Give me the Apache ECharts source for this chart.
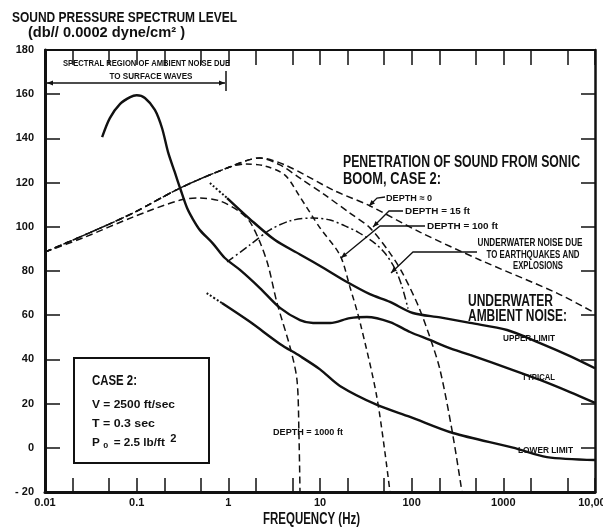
<!DOCTYPE html>
<html>
<head>
<meta charset="utf-8">
<script src="https://cdn.jsdelivr.net/npm/echarts@6/dist/echarts.min.js"></script>
<style>
  html, body { margin: 0; background: #fff; }
  #chart { width: 603px; height: 529px; }
</style>
</head>
<body>
<div id="chart"></div>
<script>
// axis ticks / labels
const xLabelValues = [0.01, 0.1, 1, 10, 100, 1000, 10000];
const xLabelText = ['0.01', '0.1', '1', '10', '100', '1000', '10,000'];
const xTickValues = [0.01, 0.02, 0.05, 0.1, 0.2, 0.5, 1, 2, 5, 10, 20, 50, 100, 200, 500, 1000, 2000, 5000, 10000];

// [frequency Hz, level dB]
// ambient noise due to surface waves, running on into the "typical" ambient curve
const typicalNoise = [
  [0.042, 140.6], [0.051, 149.2], [0.066, 155.6], [0.085, 158.7], [0.10, 159.5], [0.123, 158.3],
  [0.158, 152.9], [0.189, 144.7], [0.22, 133.8], [0.26, 124.8], [0.30, 117.1], [0.354, 108.6],
  [0.41, 103.5], [0.49, 98.5], [0.68, 92.4], [0.91, 86], [1.34, 80.5], [2.21, 72.3],
  [3.66, 63.3], [6.05, 57.8], [8.4, 56.5], [12.9, 56.5], [21.2, 58.7], [32.5, 59.2], [58, 56.9],
  [96, 52.4], [158, 48.8], [243, 45.6], [433, 42], [1274, 35.2], [2512, 30.7], [5335, 25.2], [10000, 20.3]
];
const upperLimitLead = [[0.63, 119.8], [0.97, 113]];
const upperLimit = [
  [0.97, 113], [1.72, 103.5], [3.23, 94], [6.05, 87.5], [11.3, 81], [19.7, 75], [35, 69.5],
  [58, 66], [103, 61], [204, 59], [433, 56.5], [1097, 53.3], [2512, 47.4], [5335, 41.5], [10000, 36]
];
const lowerLimitLead = [[0.58, 70], [0.85, 65.5]];
const lowerLimit = [
  [0.85, 65.5], [1.72, 57], [3.66, 47], [6.05, 41.5], [10, 35.5], [16.5, 28], [41.9, 19.4],
  [96, 14], [282, 6.7], [1274, 0.1], [2993, -4.2], [10000, -5.5]
];
// sonic boom penetration, case 2
const depth0 = [
  [0.01, 88.6], [0.026, 96], [0.091, 106.2], [0.30, 117.6], [0.97, 126.6], [2.21, 131.1],
  [4.15, 128], [14.6, 116.2], [33.4, 109.9], [123, 97.6], [556, 85], [3846, 70], [10000, 61]
];
const depth15 = [
  [0.01, 88.6], [0.026, 96], [0.091, 106.2], [0.30, 117.6], [0.97, 126.6], [2.21, 131.1],
  [3.66, 128], [6.05, 122], [11.3, 114.4], [21.2, 106.2], [35.1, 99.5], [58, 88.1], [78.4, 79.5],
  [117, 64.6], [158, 50.1], [204, 35.2], [275, 8.1], [354, -20]
];
const depth100 = [
  [0.01, 88.6], [0.026, 96], [0.091, 106.2], [0.30, 117.6], [0.97, 126.6], [1.52, 128.4],
  [2.51, 127.5], [4.15, 123.4], [6.05, 113.5], [10, 99.5], [16.5, 87.2], [21.2, 72.8],
  [27.3, 56.9], [41.9, 22.5], [58, -20]
];
const depth1000 = [
  [0.01, 88.6], [0.026, 95], [0.091, 104.4], [0.30, 112.1], [0.49, 113], [0.81, 111.7],
  [1.34, 106.7], [1.72, 102.2], [2.21, 93.1], [2.71, 82.7], [3.4, 65.5], [4.71, 45.6],
  [5.61, 30.7], [5.9, 5], [6.05, -20]
];
// underwater noise due to earthquakes and explosions
const quakeNoise = [
  [0.97, 84.1], [1.72, 91.8], [2.85, 98.6], [4.71, 102.7], [8.4, 104], [12.9, 103.1],
  [18.7, 100.4], [25.9, 97.6], [39.8, 92.5], [51.2, 88], [65.8, 81], [78.4, 73], [91.2, 63]
];

const FONT = '"Liberation Sans", Arial, sans-serif';
const INK = '#111';
const measurer = document.createElement('canvas').getContext('2d');

// squeezed bold text, to look like the condensed lettering of the original
function note(text, x, y, size, width, align) {
  const font = 'bold ' + size + 'px ' + FONT;
  measurer.font = font;
  const sx = width / measurer.measureText(text).width;
  return {
    type: 'text', x: x, y: y, scaleX: sx, silent: true, z: 100,
    style: { text: text, font: font, fill: INK, align: align || 'left', verticalAlign: 'middle' }
  };
}

function head(from, to) {
  const a = Math.atan2(to[1] - from[1], to[0] - from[0]);
  const L = 6, W = 2.4;
  const bx = to[0] - L * Math.cos(a), by = to[1] - L * Math.sin(a);
  return {
    type: 'polygon', silent: true, z: 100,
    shape: { points: [to, [bx + W * Math.sin(a), by - W * Math.cos(a)], [bx - W * Math.sin(a), by + W * Math.cos(a)]] },
    style: { fill: INK }
  };
}

function leader(points) {
  const n = points.length;
  return [
    { type: 'polyline', silent: true, z: 100, shape: { points: points }, style: { stroke: INK, lineWidth: 1.3, fill: null } },
    head(points[n - 2], points[n - 1])
  ];
}

function curve(data, width, dash) {
  return {
    type: 'line', data: data, showSymbol: false, smooth: 0.3,
    silent: true, lineStyle: { color: INK, width: width, type: dash || 'solid' }
  };
}

// width of the P0 line, measured so it can be squeezed like the others
measurer.font = 'bold 10.5px ' + FONT;
const p0Width = measurer.measureText('P0 = 2.5 lb/ft 2').width + 4;

const graphics = [
  note('SOUND PRESSURE SPECTRUM LEVEL', 12, 18, 15, 225),
  note('(db// 0.0002 dyne/cm² )', 28, 33, 14, 157),
  note('SPECTRAL REGION OF AMBIENT NOISE DUE', 63, 63, 9.5, 167),
  note('TO SURFACE WAVES', 151, 76, 9.5, 83, 'center'),
  note('PENETRATION OF SOUND FROM SONIC', 343, 163, 16, 237),
  note('BOOM, CASE 2:', 343, 180, 16, 98),
  note('DEPTH ≈ 0', 386, 198, 9.5, 46),
  note('DEPTH = 15 ft', 405, 211, 9.5, 65),
  note('DEPTH = 100 ft', 427, 226, 9.5, 71),
  note('UNDERWATER NOISE DUE', 530, 243, 11, 105, 'center'),
  note('TO EARTHQUAKES AND', 533, 254.5, 11, 93, 'center'),
  note('EXPLOSIONS', 538, 266, 11, 50, 'center'),
  note('UNDERWATER', 468, 302, 16, 85),
  note('AMBIENT NOISE:', 468, 317, 16, 99),
  note('UPPER LIMIT', 503, 338, 9.5, 52),
  note('TYPICAL', 522, 377, 9.5, 33),
  note('LOWER LIMIT', 518, 450, 9.5, 55),
  note('DEPTH = 1000 ft', 273, 432, 9.5, 70),
  note('CASE 2:', 92, 381, 15, 45),
  note('V = 2500 ft/sec', 92, 405, 10.5, 83),
  note('T = 0.3 sec', 92, 424, 10.5, 63),
  {
    type: 'text', x: 92, y: 443, scaleX: 83 / p0Width, silent: true, z: 100,
    style: {
      text: '{a|P}{s|0}{a| = 2.5 lb/ft }{p|2}', verticalAlign: 'middle',
      rich: {
        a: { font: 'bold 10.5px ' + FONT, fill: INK },
        s: { font: 'bold 8px ' + FONT, fill: INK, padding: [6, 2, 0, 3] },
        p: { font: 'bold 10px ' + FONT, fill: INK, padding: [0, 0, 7, 2] }
      }
    }
  },
  { type: 'rect', silent: true, z: 100, shape: { x: 74, y: 358, width: 135, height: 105 }, style: { fill: null, stroke: INK, lineWidth: 2 } },
  note('FREQUENCY (Hz)', 263, 520, 16, 97),
  // double arrow of the surface wave region
  { type: 'polyline', silent: true, z: 100, shape: { points: [[47, 83], [225, 83]] }, style: { stroke: INK, lineWidth: 1.3, fill: null } },
  head([225, 83], [47, 83]),
  head([47, 83], [225, 83]),
  { type: 'polyline', silent: true, z: 100, shape: { points: [[226, 71], [226, 91]] }, style: { stroke: INK, lineWidth: 1.5, fill: null } }
].concat(
  leader([[385, 197], [377, 198], [369, 206]]),
  leader([[403, 211], [389, 211], [373, 227]]),
  leader([[425, 226], [380, 226], [341, 258]]),
  leader([[477, 252], [413, 252], [391, 273]])
);

const axisText = { color: INK, fontFamily: FONT, fontWeight: 'bold', fontSize: 11 };

const chart = echarts.init(document.getElementById('chart'));
chart.setOption({
  animation: false,
  backgroundColor: '#fff',
  grid: { left: 45, right: 8, top: 50, bottom: 37, containLabel: false, outerBoundsMode: 'none' },
  xAxis: [{
    type: 'log', logBase: 10, min: 0.01, max: 10000, position: 'bottom',
    axisLine: { onZero: false, lineStyle: { color: INK, width: 3 } },
    axisTick: { inside: true, length: 14, customValues: xTickValues, lineStyle: { color: INK, width: 1.5 } },
    axisLabel: Object.assign({
      customValues: xLabelValues, margin: 5,
      formatter: function (v) { return xLabelText[Math.round(Math.log10(v)) + 2]; }
    }, axisText),
    splitLine: { show: false }, minorTick: { show: false }
  }, {
    type: 'log', logBase: 10, min: 0.01, max: 10000, position: 'top',
    axisLine: { onZero: false, lineStyle: { color: INK, width: 2 } },
    axisTick: { inside: true, length: 15, customValues: xTickValues, lineStyle: { color: INK, width: 1.5 } },
    axisLabel: { show: false },
    splitLine: { show: false }
  }],
  yAxis: [{
    type: 'value', min: -20, max: 180, interval: 20, position: 'left',
    axisLine: { show: true, onZero: false, lineStyle: { color: INK, width: 3 } },
    axisTick: { show: true, inside: true, length: 15, lineStyle: { color: INK, width: 1.5 } },
    axisLabel: Object.assign({
      margin: 11,
      formatter: function (v) { return v < 0 ? '- ' + Math.abs(v) : String(v); }
    }, axisText),
    splitLine: { show: false }
  }, {
    type: 'value', min: -20, max: 180, interval: 20, position: 'right',
    axisLine: { show: true, onZero: false, lineStyle: { color: INK, width: 2.5 } },
    axisTick: { show: true, inside: true, length: 14, lineStyle: { color: INK, width: 1.5 } },
    axisLabel: { show: false },
    splitLine: { show: false }
  }],
  series: [
    curve(typicalNoise, 2.4),
    curve(upperLimitLead, 2, [2, 2]),
    curve(upperLimit, 2.4),
    curve(lowerLimitLead, 2, [2, 2]),
    curve(lowerLimit, 2.4),
    curve(depth0, 1.5, [7, 4]),
    curve(depth15, 1.5, [7, 4]),
    curve(depth100, 1.5, [6, 4]),
    curve(depth1000, 1.5, [7, 4]),
    curve(quakeNoise, 1.5, [8, 3, 2, 3])
  ],
  graphic: graphics
});
</script>
</body>
</html>
